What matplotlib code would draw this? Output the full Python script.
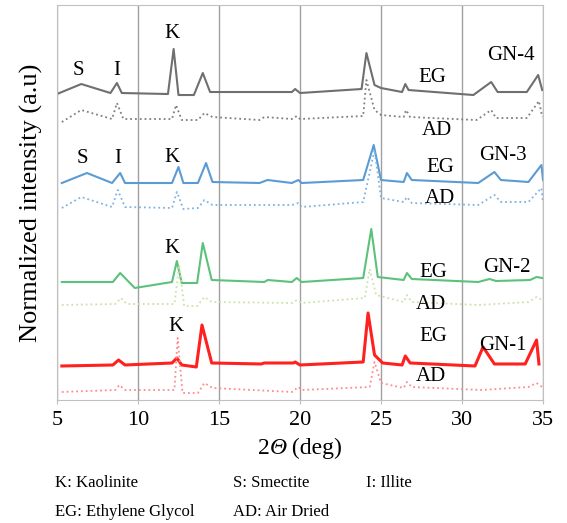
import numpy as np
import matplotlib
matplotlib.use('Agg')
import matplotlib.pyplot as plt
from matplotlib.offsetbox import TextArea, HPacker, AnnotationBbox

plt.rcParams['font.family'] = ['Liberation Serif', 'DejaVu Serif']

# XRD patterns, 2theta (deg) and normalized intensity (arbitrary units)
# GN-4
x_gn4_eg = [5.0, 6.5, 8.3, 8.7, 9.0, 11.85, 12.2, 12.5, 13.45, 14.0, 14.45, 17.5, 19.5, 19.7, 20.0,
            23.8, 24.1, 24.6, 25.0, 26.3, 26.5, 26.7, 30.7, 31.8, 32.2, 34.0, 34.7, 34.95]
i_gn4_eg = [0, 10, 1, 11, 1, 0, 45, -1, -1, 21, 2, 2, 2, 5, 1,
            5, 41, 9, 6, 2, 10, 4, -1, 12, 2, 2, 19, 4]
x_gn4_ad = [5.3, 6.5, 8.4, 8.7, 9.1, 12.1, 12.35, 12.7, 13.7, 14.1, 14.6, 17.5, 17.8, 19.5, 19.8,
            20.0, 23.9, 24.1, 24.6, 25.0, 26.4, 26.55, 26.8, 30.9, 31.8, 32.1, 34.0, 34.75, 34.95]
i_gn4_ad = [-2, 10, 1, 17, 1, 1, 15, 0, 0, 7, 3, 0, 3, 1, 4,
            1, 4, 40, 10, 5, 3, 10, 3, 0, 10, 2, 2, 19, 3]
# GN-3
x_gn3_eg = [5.3, 6.85, 8.4, 8.9, 9.2, 12.1, 12.5, 12.8, 13.7, 14.2, 14.6, 17.5, 18.0, 19.5, 19.9,
            20.1, 23.9, 24.55, 25.0, 26.4, 26.6, 26.9, 31.0, 32.0, 32.4, 34.1, 34.9, 35.0]
i_gn3_eg = [0, 10, 0, 10, 0, 0, 16, 0, 0, 20, 1, 0, 3, 0, 3,
            0, 3, 38, 3, 1, 10, 3, 0, 11, 3, 1, 18, 3]
x_gn3_ad = [5.3, 6.5, 8.4, 8.75, 9.2, 12.1, 12.4, 12.8, 13.7, 14.1, 14.6, 19.5, 19.9, 20.1,
            23.9, 24.6, 25.0, 26.4, 26.6, 26.9, 31.0, 32.0, 32.4, 34.1, 34.9, 35.0]
i_gn3_ad = [0, 11, 1, 18, 1, 0, 16, -1, 0, 8, 3, 3, 5, 1,
            6, 58, 10, 6, 11, 5, 3, 13, 6, 6, 20, 5]
# GN-2
x_gn2_eg = [5.3, 8.45, 8.9, 9.8, 12.1, 12.4, 12.7, 13.65, 14.0, 14.55, 17.8, 18.0, 19.5, 19.8,
            20.1, 23.9, 24.4, 24.8, 26.4, 26.6, 26.9, 31.0, 31.7, 32.1, 34.2, 34.6, 34.95]
i_gn2_eg = [0, 0, 9, -6, 0, 21, -1, -1, 39, 2, 0, 2, 0, 4,
            0, 4, 53, 5, 2, 9, 3, 0, 3, 1, 2, 5, 4]
x_gn2_ad = [5.3, 8.6, 8.95, 9.3, 12.25, 12.55, 12.85, 13.65, 14.1, 14.55, 19.5, 19.8, 20.1,
            24.0, 24.3, 24.7, 26.4, 26.6, 26.9, 31.0, 34.1, 34.6, 34.95]
i_gn2_ad = [0, 1, 7, 1, 1, 40, -1, -1, 8, 3, 2, 5, 2,
            7, 36, 10, 3, 10, 3, 0, 3, 8, 5]
# GN-1
x_gn1_eg = [5.3, 8.45, 8.8, 9.2, 12.1, 12.4, 12.7, 13.6, 13.95, 14.55, 17.6, 17.8, 19.6, 19.7,
            20.0, 23.9, 24.2, 24.6, 25.1, 26.3, 26.5, 26.8, 30.8, 31.3, 32.0, 33.9, 34.6, 34.75]
i_gn1_eg = [-1, 0, 5, 0, 2, 7, 0, -2, 40, 2, 1, 2, 2, 3,
            0, 3, 52, 10, 2, 0, 9, 2, -1, 18, 1, 1, 25, 1]
x_gn1_ad = [5.3, 8.6, 8.85, 9.2, 12.25, 12.45, 12.75, 13.7, 14.1, 14.6, 19.5, 19.9, 20.1,
            24.3, 24.6, 25.0, 26.4, 26.6, 26.9, 31.2, 34.1, 34.6, 34.95]
i_gn1_ad = [-1, 1, 6, 1, 1, 53, -2, -2, 8, 3, -1, 4, 1,
            4, 29, 8, 3, 9, 4, 1, 4, 8, 4]

samples = ['GN-4', 'GN-3', 'GN-2', 'GN-1']

fig = plt.figure(figsize=(5.67, 5.23), dpi=100)
ax = fig.add_axes([0.1005, 0.2352, 0.8572, 0.7552])

# stacking offsets
traces = [
    (x_gn4_eg, i_gn4_eg, 306, '#6f6f6f', '-', 1.5),
    (x_gn4_ad, i_gn4_ad, 280, '#7f7f7f', ':', 1.3),
    (x_gn3_eg, i_gn3_eg, 217, '#5b9bd5', '-', 1.5),
    (x_gn3_ad, i_gn3_ad, 192, '#7fb2e2', ':', 1.3),
    (x_gn2_eg, i_gn2_eg, 118, '#5cc27b', '-', 1.5),
    (x_gn2_ad, i_gn2_ad, 95, '#c9e3a8', ':', 1.3),
    (x_gn1_eg, i_gn1_eg, 35, '#ff2020', '-', 2.2),
    (x_gn1_ad, i_gn1_ad, 9, '#ff8c8c', ':', 1.3),
]
for x, inten, off, col, ls, lw in traces:
    ax.plot(x, np.array(inten) + off, color=col, linestyle=ls, linewidth=lw)

ax.set_xlim(5, 35)
ax.set_ylim(0, 395)
ax.set_xticks([5, 10, 15, 20, 25, 30, 35])
ax.set_yticks([])
ax.grid(True, axis='x', color='#a0a0a0', linewidth=1)
for s in ax.spines.values():
    s.set_color('#c0c0c0')
ax.tick_params(axis='x', labelsize=16, length=3, color='#c0c0c0', pad=5)
ax.set_ylabel('Normalized intensity (a.u)', fontsize=19, labelpad=10)

# x label with italic theta
xl_props = dict(fontsize=17, color='black')
xl = HPacker(children=[TextArea('2', textprops=xl_props),
                       TextArea('Θ', textprops=dict(xl_props, style='italic')),
                       TextArea(' (deg)', textprops=xl_props)],
             align='baseline', pad=0, sep=0)
ab = AnnotationBbox(xl, (0.5, 1 - 448 / 523), xycoords=('axes fraction', 'figure fraction'),
                    frameon=False, box_alignment=(0.5, 0.5), annotation_clip=False)
ax.add_artist(ab)

# mineral peak labels
fs = 15
ax.text(6.3, 330, 'S', fontsize=fs, ha='center', va='center')
ax.text(8.7, 330, 'I', fontsize=fs, ha='center', va='center')
ax.text(12.1, 367, 'K', fontsize=fs, ha='center', va='center')
ax.text(6.55, 242, 'S', fontsize=fs, ha='center', va='center')
ax.text(8.75, 242, 'I', fontsize=fs, ha='center', va='center')
ax.text(12.1, 243, 'K', fontsize=fs, ha='center', va='center')
ax.text(12.1, 152, 'K', fontsize=fs, ha='center', va='center')
ax.text(12.35, 73, 'K', fontsize=fs, ha='center', va='center')

# treatment and sample labels
eg_pos = [(28.15, 323), (28.65, 233), (28.2, 128), (28.2, 63)]
ad_pos = [(28.45, 270), (28.65, 202), (28.1, 95), (28.1, 23)]
gn_pos = [(33.0, 345), (32.5, 245), (32.8, 133), (32.5, 54)]
for name, (ex, ey), (dx, dy), (gx, gy) in zip(samples, eg_pos, ad_pos, gn_pos):
    ax.text(ex, ey, 'EG', fontsize=fs, ha='center', va='center')
    ax.text(dx, dy, 'AD', fontsize=fs, ha='center', va='center')
    ax.text(gx, gy, name, fontsize=fs, ha='center', va='center')

# key
kfs = 12
fig.text(0.097, 0.0765, 'K: Kaolinite', fontsize=kfs, va='center')
fig.text(0.411, 0.0765, 'S: Smectite', fontsize=kfs, va='center')
fig.text(0.645, 0.0765, 'I: Illite', fontsize=kfs, va='center')
fig.text(0.097, 0.021, 'EG: Ethylene Glycol', fontsize=kfs, va='center')
fig.text(0.411, 0.021, 'AD: Air Dried', fontsize=kfs, va='center')

fig.savefig('out.png', dpi=100)
